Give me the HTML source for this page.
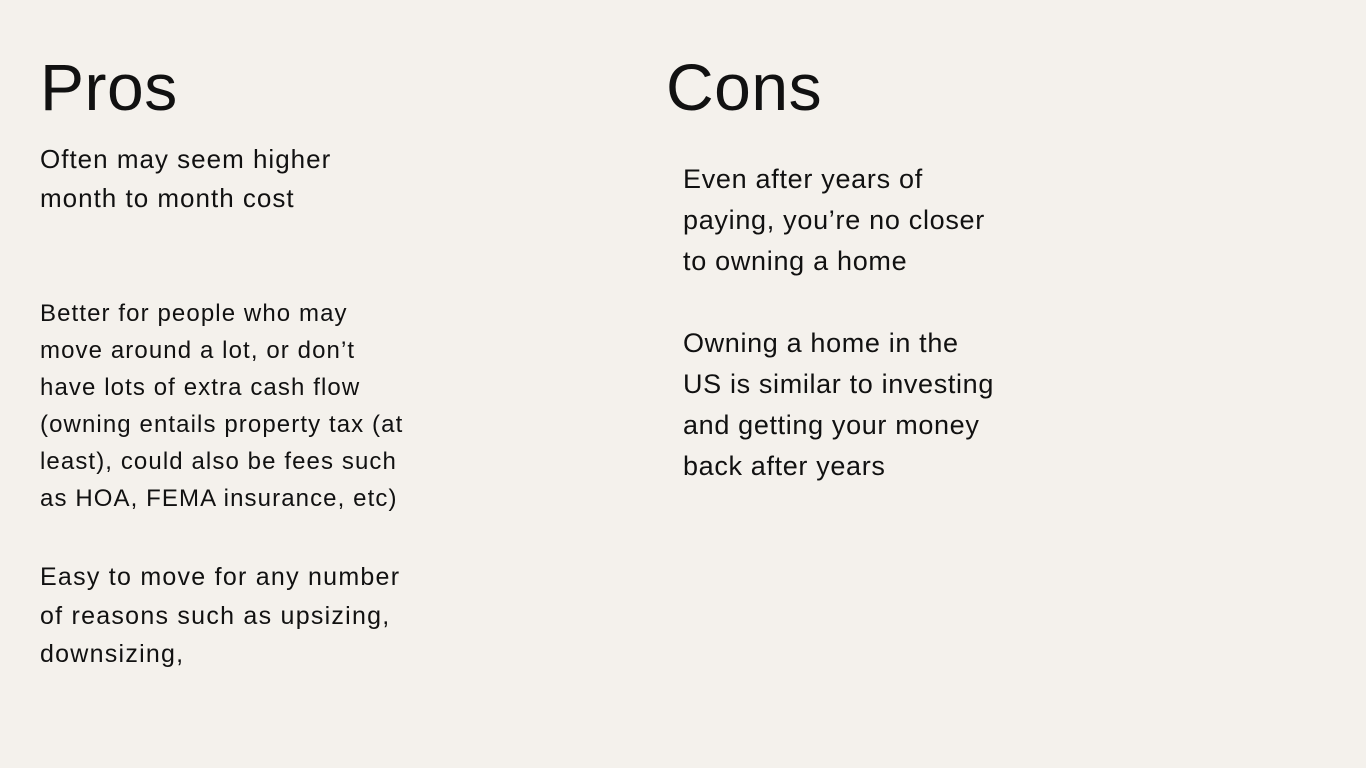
<!DOCTYPE html>
<html><head><meta charset="utf-8">
<style>
html,body{margin:0;padding:0;}
body{width:1366px;height:768px;background:#f4f1ec;position:relative;overflow:hidden;font-family:"Liberation Sans",sans-serif;color:#111;}
.h{position:absolute;font-size:66px;line-height:66px;top:54px;margin:0;font-weight:normal;letter-spacing:0.5px;}
.t{position:absolute;margin:0;white-space:nowrap;}
</style></head>
<body>
<h1 class="h" style="left:40px">Pros</h1>
<h1 class="h" style="left:666px">Cons</h1>

<p class="t" style="left:40px;top:140px;font-size:26px;line-height:39px;letter-spacing:1px">Often may seem higher<br>month to month cost</p>

<p class="t" style="left:40px;top:295px;font-size:24px;line-height:37px;letter-spacing:1.1px">Better for people who may<br>move around a lot, or don’t<br>have lots of extra cash flow<br>(owning entails property tax (at<br>least), could also be fees such<br>as HOA, FEMA insurance, etc)</p>

<p class="t" style="left:40px;top:558px;font-size:25px;line-height:38.5px;letter-spacing:1.25px">Easy to move for any number<br>of reasons such as upsizing,<br>downsizing,</p>

<p class="t" style="left:683px;top:159px;font-size:27px;line-height:41px;letter-spacing:0.7px">Even after years of<br>paying, you’re no closer<br>to owning a home</p>

<p class="t" style="left:683px;top:323px;font-size:27px;line-height:41px;letter-spacing:0.65px">Owning a home in the<br>US is similar to investing<br>and getting your money<br>back after years</p>
</body></html>
